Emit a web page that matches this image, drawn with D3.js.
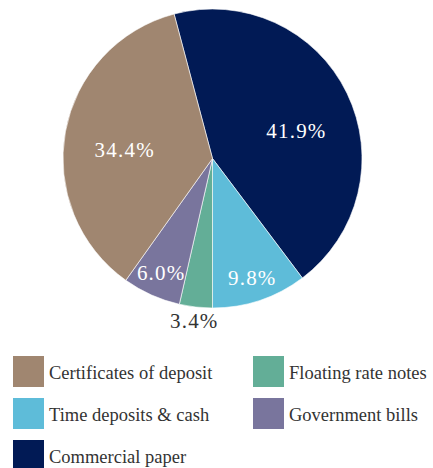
<!DOCTYPE html>
<html><head><meta charset="utf-8">
<script src="https://cdn.jsdelivr.net/npm/d3@7"></script>
<style>body{margin:0;background:#fff}svg{display:block}
text{font-family:"Liberation Serif","DejaVu Serif","Times New Roman",serif}</style>
</head><body>
<svg id="c" width="433" height="468"></svg>
<script>
const categories = ["Commercial paper","Time deposits & cash","Floating rate notes","Government bills","Certificates of deposit"];
const values = [41.9, 9.8, 3.4, 6.0, 34.4];
const labels = ["41.9%","9.8%","3.4%","6.0%","34.4%"];
const colors = ["#011A55","#5EBCD9","#63AE97","#79759D","#A08670"];
const legendOrder = ["Certificates of deposit","Floating rate notes","Time deposits & cash","Government bills","Commercial paper"];

const svg = d3.select("#c");
const cx = 212.5, cy = 158.5, R = 149.5;
const total = d3.sum(values);
const start = Math.PI - (values[0]+values[1])/total*2*Math.PI;
const pie = d3.pie().sort(null).value(d=>d).startAngle(start).endAngle(start+2*Math.PI);
const arcs = pie(values);
const arc = d3.arc().innerRadius(0).outerRadius(R);
const color = d3.scaleOrdinal().domain(categories).range(colors);
const g = svg.append("g").attr("transform",`translate(${cx},${cy})`);
g.selectAll("path").data(arcs).join("path")
  .attr("d",arc).attr("fill",(d,i)=>color(categories[i]))
  .attr("stroke","#fff").attr("stroke-width",0.6);

g.selectAll("text").data(arcs).join("text")
  .attr("transform",(d,i)=>{
    const frac = (d.endAngle-d.startAngle)/(2*Math.PI);
    let r;
    if (frac < 0.04) r = R + 14;
    else if (frac < 0.15) r = R*0.84;
    else r = R*0.59;
    let a = (d.startAngle+d.endAngle)/2;
    if (frac > 0.4) a += 0.14;
    if (frac > 0.3 && frac < 0.4) a -= 0.08;
    return `translate(${Math.sin(a)*r},${-Math.cos(a)*r})`;
  })
  .attr("text-anchor","middle").attr("dominant-baseline","central")
  .attr("font-size",21).attr("letter-spacing",1.2)
  .attr("fill",(d,i)=> (d.endAngle-d.startAngle)/(2*Math.PI) < 0.04 ? "#333" : "#fff")
  .text((d,i)=>labels[i]);

const leg = svg.append("g");
const items = leg.selectAll("g").data(legendOrder).join("g")
  .attr("transform",(d,i)=>`translate(${i%2===0?13:253},${356 + Math.floor(i/2)*42})`);
items.append("rect").attr("width",31).attr("height",31).attr("fill",d=>color(d));
items.append("text").attr("x",36).attr("y",23)
  .attr("font-size",18.5).attr("fill","#333")
  .text(d=>d);
</script>
</body></html>
